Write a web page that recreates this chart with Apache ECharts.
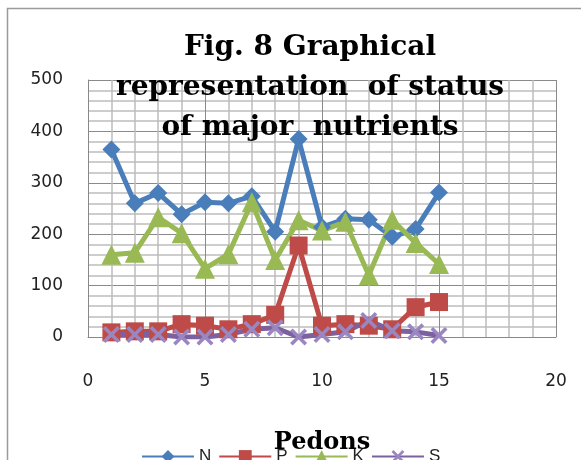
<!DOCTYPE html>
<html>
<head>
<meta charset="utf-8">
<script src="https://cdn.jsdelivr.net/npm/echarts@6/dist/echarts.min.js"></script>
<style>html,body{margin:0;padding:0;background:#fff}#c{width:581px;height:460px}</style>
</head>
<body>
<div id="c"></div>
<script>
var pedons = [1,2,3,4,5,6,7,8,9,10,11,12,13,14,15];
var nVals = [365,260,280,239,262,260,274,205,385,214,230,228,195,210,281];
var pVals = [9,11,11,25,22,15,25,43,178,22,25,22,15,58,68];
var kVals = [160,164,233,202,133,161,262,150,227,207,224,120,228,183,142];
var sVals = [5,5,5,0,0,5,15,18,0,5,10,32,12,10,3];
var xTicks = [0,5,10,15,20];
var yTicks = [0,100,200,300,400,500];

function pairs(v){ return pedons.map(function(x,i){ return [x, v[i]]; }); }
var X = 'path://M0,1.5L1.5,0L5,3.5L8.5,0L10,1.5L6.5,5L10,8.5L8.5,10L5,6.5L1.5,10L0,8.5L3.5,5Z';

var chart = echarts.init(document.getElementById('c'));
chart.setOption({
  animation: false,
  graphic: [{type:'rect', shape:{x:7.5,y:8.5,width:640,height:520}, style:{fill:'none', stroke:'#9a9a9a', lineWidth:1.5}, z:-10}],
  title: {
    text: 'Fig. 8 Graphical\nrepresentation  of status\nof major  nutrients',
    left: 305, top: 23, textAlign: 'center',
    textStyle: {fontFamily: 'DejaVu Serif', fontWeight: 'bold', fontSize: 28, lineHeight: 40, color: '#000'}
  },
  legend: {
    bottom: -10, left: 136,
    itemWidth: 52, itemHeight: 16, itemGap: 7,
    textStyle: {fontSize: 17, color: '#222', fontFamily: 'Liberation Sans'},
    data: ['N','P','K','S']
  },
  grid: {left: 88, right: 25, top: 80, bottom: 110},
  xAxis: {
    type: 'value', min: 0, max: 20, interval: 5,
    name: 'Pedons', nameLocation: 'middle', nameGap: 94,
    nameTextStyle: {fontFamily: 'DejaVu Serif', fontWeight: 'bold', fontSize: 24, color: '#000'},
    axisLine: {show: true, lineStyle: {color: '#888'}},
    axisTick: {show: false},
    axisLabel: {margin: 36, fontSize: 17, color: '#222', fontFamily: 'DejaVu Sans'},
    splitLine: {show: true, lineStyle: {color: '#8a8a8a', width: 1}},
    minorTick: {show: false, splitNumber: 5},
    minorSplitLine: {show: true, lineStyle: {color: '#bdbdbd', width: 1.5}}
  },
  yAxis: {
    type: 'value', min: 0, max: 500, interval: 100,
    axisLine: {show: true, lineStyle: {color: '#888'}},
    axisTick: {show: false},
    axisLabel: {margin: 25, fontSize: 17, color: '#222', fontFamily: 'DejaVu Sans'},
    splitLine: {show: true, lineStyle: {color: '#8a8a8a', width: 1}},
    minorTick: {show: false, splitNumber: 5},
    minorSplitLine: {show: true, lineStyle: {color: '#bdbdbd', width: 1.5}}
  },
  series: [
    {name:'N', type:'line', data: pairs(nVals), symbol:'diamond', symbolSize:18,
     lineStyle:{width:5, color:'#4a7ebb'}, itemStyle:{color:'#4a7ebb'}},
    {name:'P', type:'line', data: pairs(pVals), symbol:'rect', symbolSize:18,
     lineStyle:{width:5, color:'#be4b48'}, itemStyle:{color:'#be4b48'}},
    {name:'K', type:'line', data: pairs(kVals), symbol:'triangle', symbolSize:20,
     lineStyle:{width:5, color:'#98b954'}, itemStyle:{color:'#98b954'}},
    {name:'S', type:'line', data: pairs(sVals), symbol: X, symbolSize:17,
     lineStyle:{width:5, color:'#7d60a0'}, itemStyle:{color:'#9a86c0'}}
  ]
});
</script>
</body>
</html>
